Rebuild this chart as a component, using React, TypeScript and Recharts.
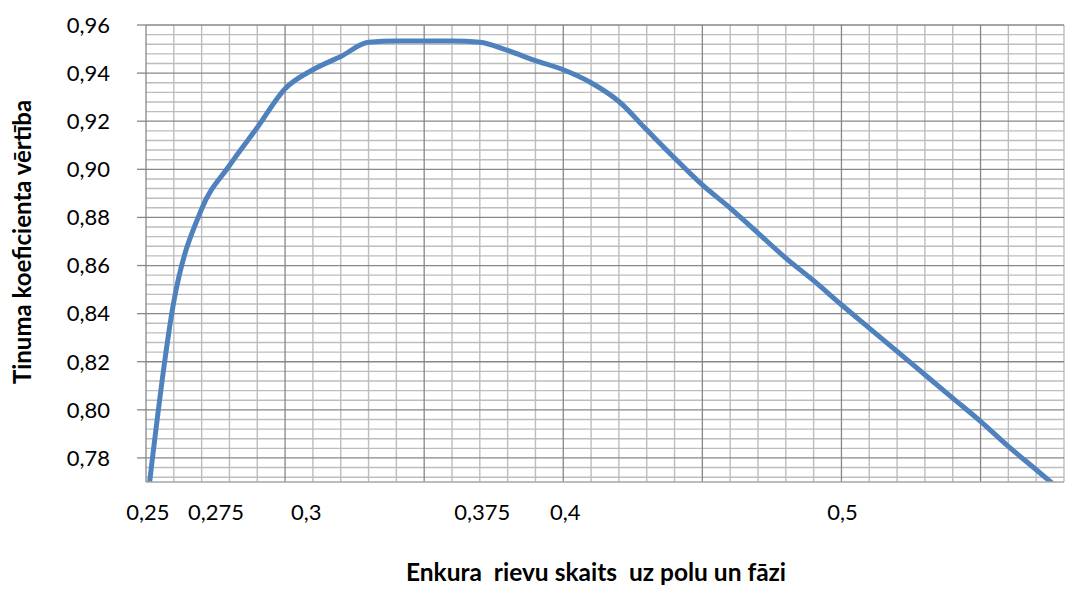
import React from 'react';
import { LineChart, Line, XAxis, YAxis, ReferenceLine } from 'recharts';

// slots per pole and phase (q) and winding factor values
const qValues = [
  0.25, 0.26, 0.27, 0.28, 0.29, 0.3, 0.31, 0.32, 0.33, 0.34, 0.35,
  0.36, 0.37, 0.38, 0.39, 0.4, 0.41, 0.42, 0.43, 0.44, 0.45, 0.46,
  0.47, 0.48, 0.49, 0.5, 0.51, 0.52, 0.53, 0.54, 0.55, 0.56, 0.57, 0.58,
];
const kwValues = [
  0.757, 0.845, 0.8835, 0.9016, 0.9174, 0.9335, 0.9414, 0.9469, 0.9528, 0.9533, 0.9533,
  0.9533, 0.9528, 0.9494, 0.9452, 0.9414, 0.936, 0.9282, 0.9164, 0.9047, 0.8935, 0.8839,
  0.8735, 0.8631, 0.8537, 0.8437, 0.834, 0.8243, 0.8146, 0.8049, 0.7952, 0.7848, 0.7751, 0.7654,
];

// tick label texts and where they sit on the q axis
const xTickValues = [0.2507, 0.2752, 0.3076, 0.3709, 0.4007, 0.5004];
const xTickLabels = ['0,25', '0,275', '0,3', '0,375', '0,4', '0,5'];
const yTickValues = [0.78, 0.8, 0.82, 0.84, 0.86, 0.88, 0.9, 0.92, 0.94, 0.96];

const xTitle = 'Enkura  rievu skaits  uz polu un fāzi';
const yTitle = 'Tinuma koeficienta vērtība';

const data = qValues.map((q, i) => ({ q, kw: kwValues[i] }));

// grid positions (major every 0.05 / 0.02, minor every 0.01 / 0.004)
const xGrid: { v: number; major: boolean }[] = [];
for (let i = 1; i <= 33; i++) {
  const v = Math.round((0.25 + i * 0.01) * 1000) / 1000;
  xGrid.push({ v, major: i % 5 === 0 });
}
const yGrid: { v: number; major: boolean }[] = [];
for (let i = 0; i <= 47; i++) {
  const v = Math.round((0.772 + i * 0.004) * 1000) / 1000;
  const major = Math.abs(Math.round(v * 1000) % 20) === 0;
  yGrid.push({ v, major });
}

const MAJOR = '#878787';
const MINOR = '#BDBDBD';
const FONT = 'Lato, "Open Sans", sans-serif';

const fmtY = (v: number) => v.toFixed(2).replace('.', ',');
const fmtX = (v: number) => {
  const idx = xTickValues.findIndex((t) => Math.abs(t - v) < 1e-9);
  return idx >= 0 ? xTickLabels[idx] : '';
};

export default function App() {
  return (
    <div style={{ position: 'absolute', left: 0, top: 0, width: 1070, height: 608, background: '#fff', fontFamily: FONT }}>
      <LineChart width={1070} height={608} data={data} margin={{ top: 25, right: 6, bottom: 86, left: 0 }}>
        <XAxis
          dataKey="q"
          type="number"
          domain={[0.25, 0.58]}
          allowDataOverflow
          ticks={xTickValues}
          interval={0}
          tickFormatter={fmtX}
          tickLine={false}
          tickSize={0}
          tickMargin={22}
          height={40}
          axisLine={{ stroke: '#A6A6A6', strokeWidth: 1.3 }}
          tick={{ fill: '#000', fontSize: 22, fontFamily: FONT }}
        />
        <YAxis
          type="number"
          domain={[0.77, 0.96]}
          allowDataOverflow
          ticks={yTickValues}
          interval={0}
          tickFormatter={fmtY}
          width={146}
          tickSize={9}
          tickMargin={27}
          axisLine={{ stroke: MAJOR, strokeWidth: 1.3 }}
          tickLine={{ stroke: MAJOR, strokeWidth: 1.3 }}
          tick={{ fill: '#000', fontSize: 22, fontFamily: FONT }}
        />
        {yGrid.filter((g) => !g.major).map((g) => (
          <ReferenceLine key={'ym' + g.v} y={g.v} stroke={MINOR} strokeWidth={1.4} />
        ))}
        {xGrid.filter((g) => !g.major).map((g) => (
          <ReferenceLine key={'xm' + g.v} x={g.v} stroke={MINOR} strokeWidth={1.4} />
        ))}
        {yGrid.filter((g) => g.major).map((g) => (
          <ReferenceLine key={'yM' + g.v} y={g.v} stroke={MAJOR} strokeWidth={1.3} />
        ))}
        {xGrid.filter((g) => g.major).map((g) => (
          <ReferenceLine key={'xM' + g.v} x={g.v} stroke={MAJOR} strokeWidth={1.3} />
        ))}
        <Line
          type="monotone"
          dataKey="kw"
          stroke="#4F81BD"
          strokeWidth={5}
          dot={false}
          activeDot={false}
          isAnimationActive={false}
        />
      </LineChart>
      <div
        style={{
          position: 'absolute',
          left: 596,
          top: 571,
          transform: 'translate(-50%, -50%)',
          whiteSpace: 'pre',
          fontWeight: 700,
          fontSize: 24.5,
          color: '#000',
        }}
      >
        {xTitle}
      </div>
      <div
        style={{
          position: 'absolute',
          left: 21,
          top: 242,
          transform: 'translate(-50%, -50%) rotate(-90deg)',
          whiteSpace: 'pre',
          fontWeight: 700,
          fontSize: 24,
          color: '#000',
        }}
      >
        {yTitle}
      </div>
    </div>
  );
}
